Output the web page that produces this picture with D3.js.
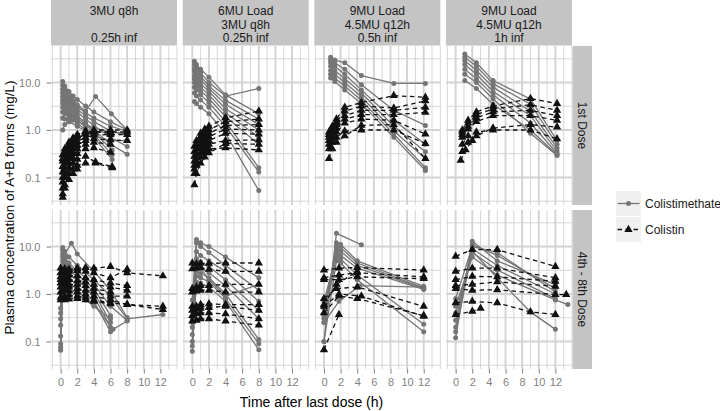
<!DOCTYPE html>
<html><head><meta charset="utf-8">
<script src="https://cdn.jsdelivr.net/npm/d3@7"></script>
<style>body{margin:0;background:#fff} svg{display:block;font-family:"Liberation Sans",Arial,Helvetica,sans-serif}</style>
</head><body><svg id="c" width="720" height="411"></svg>
<script>
// ---- labels ----
const regimens = [["3MU q8h", "", "0.25h inf"], ["6MU Load", "3MU q8h", "0.25h inf"], ["9MU Load", "4.5MU q12h", "0.5h inf"], ["9MU Load", "4.5MU q12h", "1h inf"]];
const doses = ["1st Dose", "4th - 8th Dose"];
const seriesNames = ["Colistimethate", "Colistin"];
const xTicks = [0, 2, 4, 6, 8, 10, 12];
const yTicks = [0.1, 1, 10];
const yTickLabels = ["0.1", "1.0", "10.0"];
const xTitle = "Time after last dose (h)";
const yTitle = "Plasma concentration of A+B forms (mg/L)";

// ---- data: each profile is a list of [time (h), concentration (mg/L)] ----
// 1st dose
const cms_1st_3MU = [
 [[0.25,10.5],[0.5,8.5],[1,6.5],[1.5,5.2],[2,4.4],[3,3.2],[4,2.4],[6,1.5],[8,1.0]],
 [[0.25,8.8],[0.5,7],[1,5.2],[1.5,4.2],[2,3.4],[3,2.5],[4.2,5.1],[6.1,2.2],[8,1.0]],
 [[0.25,7.2],[0.5,6],[1,4.6],[1.5,3.8],[2,3.1],[3,2.3],[4,1.8],[6,1.2],[8,0.95]],
 [[0.25,6],[0.5,5.1],[1,4],[1.5,3.3],[2,2.7],[3,2],[4,1.5],[6,0.95],[8,0.78]],
 [[0.25,5],[0.5,4.4],[1,3.5],[1.5,2.9],[2,2.4],[3,1.7],[4,1.25],[6,0.7],[8,0.45]],
 [[0.25,4.2],[0.5,3.7],[1,3],[1.5,2.5],[2,2],[3,1.4],[4,1.0],[6,0.5],[8,0.31]],
 [[0.25,3.6],[0.5,3.2],[1,2.6],[1.5,2.2],[2,1.8],[3,1.3],[4,0.9],[6.2,0.38]],
 [[0.25,3],[0.5,2.7],[1,2.2],[1.5,1.9],[2,1.6],[3,1.15],[4,0.8],[6.2,0.3]],
 [[0.25,2.4],[0.5,2.2],[1,1.9],[1.5,1.6],[2,1.4],[3,1.0],[4,0.7],[6.2,0.24]],
 [[0.25,1.8],[0.5,1.7],[1,1.5],[2,1.2],[3,0.95],[4,0.75],[6,0.6],[8,0.6]],
 [[0.25,1.0],[0.5,1.3],[1,1.6],[2,1.5],[3,1.3],[4,1.1],[6,0.9],[8,0.85]]
];
const col_1st_3MU = [
 [[0.25,0.3],[0.5,0.4],[1,0.55],[1.5,0.68],[2,0.8],[3,0.95],[4,1.0],[6,1.0],[8,1.0]],
 [[0.25,0.22],[0.5,0.3],[1,0.45],[1.5,0.58],[2,0.68],[3,0.82],[4,0.9],[6,0.92],[8,0.9]],
 [[0.25,0.17],[0.5,0.24],[1,0.37],[1.5,0.48],[2,0.58],[3,0.7],[4,0.78],[6,0.8],[8,0.8]],
 [[0.25,0.13],[0.5,0.2],[1,0.3],[1.5,0.4],[2,0.48],[3,0.6],[4,0.65],[6,0.62],[8,0.6]],
 [[0.25,0.1],[0.5,0.16],[1,0.25],[1.5,0.33],[2,0.4],[3,0.5],[4,0.55],[6,0.5]],
 [[0.25,0.08],[0.5,0.13],[1,0.2],[1.5,0.26],[2,0.32],[3,0.4],[4,0.42],[6,0.34]],
 [[0.25,0.06],[0.5,0.1],[1,0.16],[1.5,0.2],[2,0.24],[3,0.28],[4.2,0.21],[6.2,0.17]],
 [[0.25,0.045],[0.5,0.07],[1,0.12],[1.5,0.15],[2,0.18],[3,0.2],[4.2,0.2],[6.2,0.16]],
 [[0.25,0.038],[0.5,0.06],[1,0.09],[1.5,0.12],[2,0.15]],
 [[0.25,0.25],[0.5,0.35],[1,0.5],[2,0.75],[3,0.9],[4,0.95],[6,0.85]]
];
const cms_1st_6MU = [
 [[0.25,28],[0.5,24],[1,19],[2,13],[4,5.5],[8,2.2]],
 [[0.25,24],[0.5,20],[1,16],[2,10],[4,5.2],[8,7.5]],
 [[0.25,20],[0.5,17],[1,13.5],[2,8.5],[4,4.2],[8,1.7]],
 [[0.25,17],[0.5,14.5],[1,11.5],[2,7.5],[4,3.5],[8,1.3]],
 [[0.25,14],[0.5,12],[1,9.5],[2,6.5],[4,2.8],[8,1.0]],
 [[0.25,12],[0.5,10],[1,8],[2,5.5],[4,2.3],[8,0.7]],
 [[0.25,10],[0.5,8.5],[1,6.8],[2,4.6],[4,1.9],[8,0.5]],
 [[0.25,8],[0.5,7],[1,5.5],[2,3.8],[4,1.5],[8,0.16]],
 [[0.25,6],[0.5,5.2],[1,4.3],[2,3],[4,1.2],[8,0.13]],
 [[0.25,4],[0.5,3.6],[1,3],[2,2.2],[4,0.85],[8,0.053]]
];
const col_1st_6MU = [
 [[0.25,0.45],[0.5,0.6],[1,0.85],[1.5,1.05],[2,1.2],[4,1.8],[8,2.5]],
 [[0.25,0.35],[0.5,0.48],[1,0.7],[1.5,0.88],[2,1.0],[4,1.5],[8,1.7]],
 [[0.25,0.28],[0.5,0.4],[1,0.58],[1.5,0.72],[2,0.85],[4,1.25],[8,1.3]],
 [[0.25,0.22],[0.5,0.32],[1,0.48],[1.5,0.6],[2,0.72],[4,1.05],[8,1.0]],
 [[0.25,0.18],[0.5,0.26],[1,0.4],[1.5,0.5],[2,0.6],[4,0.85],[8,0.82]],
 [[0.25,0.15],[0.5,0.22],[1,0.33],[1.5,0.42],[2,0.5],[4,0.6],[8,0.62]],
 [[0.25,0.12],[0.5,0.18],[1,0.27],[1.5,0.34],[2,0.4],[4,0.42],[8,0.38]],
 [[0.25,0.07],[0.5,0.12],[1,0.2],[1.5,0.27],[2,0.33],[4,0.52],[8,0.5]]
];
const cms_1st_9MU05 = [
 [[0.8,34],[1.3,30],[2.5,26],[4.5,14],[8.4,9.6],[12.2,9.6]],
 [[0.8,30],[1.3,26],[2.5,19],[4.5,9],[8.4,2.6],[12.2,1.25]],
 [[0.8,26],[1.3,22],[2.5,15],[4.5,7],[8.4,1.6],[12.2,0.5]],
 [[0.8,22],[1.3,18],[2.5,12],[4.5,6],[8.4,1.2],[12.2,0.35]],
 [[0.8,18],[1.3,15],[2.5,10],[4.5,5],[8.4,0.95],[12.2,0.25]],
 [[0.8,15],[1.3,12.5],[2.5,8.5],[4.5,4.2],[8.4,0.82],[12.2,0.16]],
 [[0.8,12.5],[1.3,10.5],[2.5,7],[4.5,3.6],[8.4,0.7],[12.2,0.14]]
];
const col_1st_9MU05 = [
 [[0.6,0.9],[1,1.2],[1.5,1.7],[2.5,3.0],[4.5,3.8],[8.4,5.3],[12.2,4.9]],
 [[0.6,0.8],[1,1.1],[1.5,1.5],[2.5,2.5],[4.5,3.2],[8.4,2.9],[12.2,4.1]],
 [[0.6,0.7],[1,1.0],[1.5,1.3],[2.5,2.0],[4.5,2.6],[8.4,2.6],[12.2,3.0]],
 [[0.6,0.6],[1,0.85],[1.5,1.1],[2.5,1.7],[4.5,2.1],[8.4,2.1],[12.2,2.35]],
 [[0.6,0.5],[1,0.7],[1.5,0.9],[2.5,1.4],[4.5,1.7],[8.4,1.6],[12.2,0.82]],
 [[0.6,0.4],[1,0.55],[1.5,0.7],[2.5,0.95],[4.5,1.0],[8.4,1.0],[12.2,0.52]],
 [[0.6,0.25],[1,0.4],[1.5,0.55],[2.5,0.75],[4.5,1.25],[8.4,1.3],[12.2,0.25]]
];
const cms_1st_9MU1 = [
 [[1.1,40],[2.5,26],[4.5,11],[9,4.5],[12.2,0.6]],
 [[1.1,34],[2.5,22],[4.5,9.5],[9,3.5],[12.2,0.5]],
 [[1.1,29],[2.5,18],[4.5,8],[9,2.5],[12.2,0.42]],
 [[1.1,24],[2.5,15],[4.5,6.5],[9,2.0],[12.2,0.36]],
 [[1.1,19],[2.5,12],[4.5,5.5],[9,1.4],[12.2,0.32]],
 [[1.1,15],[2.5,10],[4.5,4.5],[9,0.85],[12.2,0.29]],
 [[1.1,11],[2.5,7.5],[4.5,3.5],[9,1.0],[12.2,0.3]]
];
const col_1st_9MU1 = [
 [[0.8,1.0],[1.5,1.6],[2.5,2.4],[4.5,3.2],[9,4.6],[12.2,3.6]],
 [[0.8,0.9],[1.5,1.4],[2.5,2.1],[4.5,2.8],[9,3.4],[12.2,2.6]],
 [[0.8,0.8],[1.5,1.2],[2.5,1.8],[4.5,2.4],[9,2.6],[12.2,2.0]],
 [[0.8,0.7],[1.5,1.05],[2.5,1.5],[4.5,2.0],[9,2.0],[12.2,1.6]],
 [[0.8,0.5],[1.5,0.75],[2.5,0.9],[4.5,1.0],[9,1.0],[12.2,0.65]],
 [[0.8,0.35],[1.5,0.55],[2.5,0.75],[4.5,1.1],[9,1.3],[12.2,1.15]],
 [[0.6,0.23],[1.2,0.38],[2,0.6]]
];
// 4th - 8th dose
const cms_ss_3MU = [
 [[0,0.8],[0.25,9.5],[0.5,8],[1,6],[2,4],[4,2],[6,0.9],[8,0.3],[12.3,0.37]],
 [[0,0.5],[0.25,8.5],[0.5,7],[1.3,11.8],[2,7],[4,3],[6,1.2],[8,0.32]],
 [[0,0.4],[0.25,7],[0.5,6],[1,4.5],[2,3],[4,1.6],[6,0.55],[8,0.28]],
 [[0,0.3],[0.25,6],[0.5,5],[1,4],[2,2.6],[4,1.3],[6,0.35]],
 [[0,0.22],[0.25,5],[0.5,4.2],[1,3.4],[2,2.2],[4,1.1],[6,0.25]],
 [[0,0.13],[0.25,4],[0.5,3.5],[1,2.8],[2,1.9],[3,1.4],[4,0.9],[6,0.2]],
 [[0,0.09],[0.25,3.2],[0.5,2.8],[1,2.3],[2,1.5],[3,1.0],[4,0.7],[6,0.16]],
 [[0,0.075],[0.25,2.5],[0.5,2.2],[1,1.8],[2,1.2],[3,0.8],[4,0.6],[6.3,0.18],[8,0.27]],
 [[0,0.065],[0.25,1.6],[0.5,1.5],[1,1.3],[2,1.0],[3,0.75],[4,0.55],[6,0.3]]
];
const col_ss_3MU = [
 [[0,3.5],[0.5,3.4],[1,3.3],[2,3.5],[3,3.6],[4,3.5],[6,3.8],[8,2.8],[12.3,2.4]],
 [[0,2.8],[0.5,2.9],[1,3.0],[2,3.1],[3,3.0],[4,2.8],[6,2.2],[8,3.3]],
 [[0,2.3],[0.5,2.4],[1,2.5],[2,2.4],[3,2.2],[4,2.0],[6,1.7],[8,1.5]],
 [[0,2.0],[0.5,2.1],[1,2.0],[2,1.9],[3,1.8],[4,1.6],[6,1.4],[8,1.2]],
 [[0,1.7],[0.5,1.7],[1,1.6],[2,1.6],[3,1.5],[4,1.3],[6,1.1]],
 [[0,1.4],[0.5,1.5],[1,1.4],[2,1.3],[3,1.2],[4,1.1],[6,0.9],[8,0.9]],
 [[0,1.1],[0.5,1.2],[1,1.15],[2,1.1],[3,1.0],[4,0.9],[6,0.75],[8,0.6],[12.3,0.55]],
 [[0,0.85],[0.5,0.9],[1,0.95],[2,0.9],[3,0.85],[4,0.75],[6,0.65],[8,0.6],[12.3,0.47]],
 [[0,0.75],[0.5,0.75],[1,0.78],[2,0.8],[3,0.75],[4,0.7],[6,0.62]]
];
const cms_ss_6MU = [
 [[0,0.75],[0.5,14],[1,12],[2,10],[4,6],[8,2.2]],
 [[0,0.45],[0.5,12],[1,10],[2,7.5],[4,4],[8,1.2]],
 [[0,0.3],[0.5,7.9],[1,6.5],[2,5],[4,3],[8,0.7]],
 [[0,0.25],[0.5,4.5],[1,3.5],[2,2.0],[4,0.9],[8,1.6]],
 [[0,0.2],[0.5,5.5],[1,4.8],[2,3.8],[4,2],[8,0.45]],
 [[0,0.14],[0.5,4],[1,3.5],[2,2.8],[4,1.5],[8,0.3]],
 [[0,0.1],[0.5,3],[1,2.7],[2,2.2],[4,1.0],[8,0.11]],
 [[0,0.08],[0.5,2.4],[1,2.2],[2,1.8],[4,0.8],[8,0.09]],
 [[0,0.062],[0.5,1.8],[1,1.7],[2,1.4],[4,0.7],[8,0.067]]
];
const col_ss_6MU = [
 [[0,4.5],[0.5,4.3],[1,4.4],[2,4.4],[4,4.5],[8,4.5]],
 [[0,3.4],[0.5,3.5],[1,3.6],[2,3.3],[4,3.0],[8,3.0]],
 [[0,1.3],[0.5,1.4],[1,1.5],[2,1.5],[4,1.6],[8,1.6]],
 [[0,1.1],[0.5,1.15],[1,1.2],[2,1.2],[4,1.1],[8,1.1]],
 [[0,0.55],[0.5,0.55],[1,0.6],[2,0.62],[4,0.6],[8,0.6]],
 [[0,0.45],[0.5,0.48],[1,0.5],[2,0.52],[4,0.55],[8,0.45]],
 [[0,0.35],[0.5,0.38],[1,0.4],[2,0.4],[4,0.38],[8,0.3]],
 [[0,0.27],[0.5,0.28],[1,0.3],[2,0.3],[4,0.27],[8,0.22]]
];
const cms_ss_9MU05 = [
 [[0,0.1],[1.5,19],[4.5,10.9]],
 [[0,0.25],[1.5,12],[2,11],[4,5],[12,1.45]],
 [[0,0.35],[1.5,10],[2,9.5],[4,4.5],[12,1.35]],
 [[0,0.5],[1.5,8.5],[2,8],[4,4],[12,1.3]],
 [[0,0.7],[1.5,7],[2,6.5],[4,3.5],[12,1.25]],
 [[0,0.3],[1.5,6],[2,5.5],[4,2.5],[12,0.23]],
 [[0,0.1],[1.5,5],[2,4.5],[4,2.0],[12,0.16]],
 [[0,0.25],[1.8,0.7],[4.3,1.5],[12,1.4]]
];
const col_ss_9MU05 = [
 [[0,3.2],[1.8,3.5],[4,3.6],[12,3.2]],
 [[0,2.2],[1.8,2.5],[4,2.8],[12,2.3]],
 [[0,2.0],[1.8,2.0],[4,2.3],[12,2.1]],
 [[0,0.8],[1.5,1.3],[4,1.4],[12,0.55]],
 [[0,0.55],[1.8,1.0],[4.5,0.9],[12,0.34]],
 [[0,0.4],[1.8,0.9],[4,0.8],[12,0.35]],
 [[0,0.067],[1.8,0.37]],
 [[0,0.6],[1.5,1.6],[4,3.0]]
];
const cms_ss_9MU1 = [
 [[0,0.12],[2,12.9],[5,5],[12,1.57]],
 [[0,0.2],[2,11],[5,6.5],[12,1.3]],
 [[0,0.28],[2,9],[5,4],[12,1.0]],
 [[0,0.4],[2,7.5],[5,3.2],[12,0.8]],
 [[0,0.55],[2,6],[5,2.5],[12,0.75],[13.5,0.6]],
 [[0,0.8],[2,10],[5,7.5],[12,1.1]],
 [[0,0.16],[2,8],[5,2.2],[9,0.42],[12,0.18]]
];
const col_ss_9MU1 = [
 [[0,6.2],[2,8.6],[5,8.6],[12,3.8]],
 [[0,3.0],[2,3.5],[5,3.5],[12,2.2]],
 [[0,2.0],[2,2.35],[5,2.3],[12,1.85]],
 [[0,1.5],[2,1.6],[5,1.8],[12,1.45]],
 [[0,1.3],[2,1.2],[5,1.23],[12,0.97],[13.3,0.97]],
 [[0,0.65],[2,0.7],[5,0.65],[9,0.42],[12,0.37]],
 [[0,0.37],[2,0.43],[3,0.5]]
];

const panelData = [
 [[cms_1st_3MU, col_1st_3MU], [cms_1st_6MU, col_1st_6MU], [cms_1st_9MU05, col_1st_9MU05], [cms_1st_9MU1, col_1st_9MU1]],
 [[cms_ss_3MU, col_ss_3MU], [cms_ss_6MU, col_ss_6MU], [cms_ss_9MU05, col_ss_9MU05], [cms_ss_9MU1, col_ss_9MU1]]
];

// ---- layout ----
const svg = d3.select("#c");
const left = 51, colStep = 131.67, panelW = 126, panelH = 159;
const rowTop = [46, 210];
const stripFill = "#c4c4c4", gridCol = "#d3d3d3", tickCol = "#7f7f7f";
const cmsCol = "#757575", colCol = "#111111";

const x = d3.scaleLinear().domain([-1.16, 14.0]).range([0, panelW]);
const y = d3.scaleLog().domain([Math.pow(10, -1.58), Math.pow(10, 1.77)]).range([panelH, 0]);
const xMinor = [-1, 1, 3, 5, 7, 9, 11, 13, 14].filter(v => v >= x.domain()[0] && v <= x.domain()[1]);
const yMinor = [-1.5, -0.5, 0.5, 1.5].map(e => Math.pow(10, e));

const line = d3.line().x(d => x(d[0])).y(d => y(d[1]));
const tri = d3.symbol().type(d3.symbolTriangle).size(30);

// top strips
regimens.forEach((lab, c) => {
  const gx = left + c * colStep;
  svg.append("rect").attr("x", gx).attr("y", 0).attr("width", panelW).attr("height", 45.5).attr("fill", stripFill);
  lab.forEach((t, i) => {
    svg.append("text").attr("x", gx + panelW / 2).attr("y", 11 + i * 13.3 + 4.3)
      .attr("text-anchor", "middle").attr("font-size", 12).attr("fill", "#1a1a1a").text(t);
  });
});

// right strips
doses.forEach((lab, r) => {
  svg.append("rect").attr("x", 572.5).attr("y", rowTop[r]).attr("width", 19.5).attr("height", panelH).attr("fill", stripFill);
  svg.append("text").attr("transform", `translate(${582.2 - 4.3},${rowTop[r] + panelH / 2}) rotate(90)`)
    .attr("text-anchor", "middle").attr("font-size", 12).attr("fill", "#1a1a1a").text(lab);
});

panelData.forEach((row, r) => {
  row.forEach((pd, c) => {
    const g = svg.append("g").attr("transform", `translate(${left + c * colStep},${rowTop[r]})`);
    g.selectAll(".vmin").data(xMinor).join("line").attr("x1", d => x(d)).attr("x2", d => x(d))
      .attr("y1", 0).attr("y2", panelH).attr("stroke", gridCol).attr("stroke-width", 0.9);
    g.selectAll(".hmin").data(yMinor).join("line").attr("y1", d => y(d)).attr("y2", d => y(d))
      .attr("x1", 0).attr("x2", panelW).attr("stroke", gridCol).attr("stroke-width", 0.9);
    g.selectAll(".vmaj").data(xTicks).join("line").attr("x1", d => x(d)).attr("x2", d => x(d))
      .attr("y1", 0).attr("y2", panelH).attr("stroke", gridCol).attr("stroke-width", 1.9);
    g.selectAll(".hmaj").data(yTicks).join("line").attr("y1", d => y(d)).attr("y2", d => y(d))
      .attr("x1", 0).attr("x2", panelW).attr("stroke", gridCol).attr("stroke-width", 1.9);

    const [cms, col] = pd;
    g.selectAll(".lc").data(cms).join("path").attr("d", line).attr("fill", "none")
      .attr("stroke", cmsCol).attr("stroke-width", 1.3);
    g.selectAll(".ll").data(col).join("path").attr("d", line).attr("fill", "none")
      .attr("stroke", colCol).attr("stroke-width", 1.3).attr("stroke-dasharray", "4.5,3.5");
    g.selectAll(".pc").data(cms.flat()).join("circle").attr("cx", d => x(d[0])).attr("cy", d => y(d[1]))
      .attr("r", 2.5).attr("fill", cmsCol);
    g.selectAll(".pl").data(col.flat()).join("path").attr("d", tri)
      .attr("transform", d => `translate(${x(d[0])},${y(d[1])})`).attr("fill", colCol);

    if (c === 0) {
      const ya = svg.append("g").attr("transform", `translate(${left},${rowTop[r]})`);
      ya.call(d3.axisLeft(y).tickValues(yTicks).tickFormat((d, i) => yTickLabels[i]).tickSize(4.5).tickPadding(6));
      ya.select(".domain").remove();
      ya.selectAll("line").attr("stroke", tickCol);
      ya.selectAll("text").attr("fill", tickCol).attr("font-size", 11).attr("font-family", "Liberation Sans, Arial, sans-serif");
    }
    if (r === 1) {
      const xa = svg.append("g").attr("transform", `translate(${left + c * colStep},${rowTop[r] + panelH})`);
      xa.call(d3.axisBottom(x).tickValues(xTicks).tickFormat(d3.format("d")).tickSize(4.5).tickPadding(5));
      xa.select(".domain").remove();
      xa.selectAll("line").attr("stroke", tickCol);
      xa.selectAll("text").attr("fill", tickCol).attr("font-size", 11).attr("font-family", "Liberation Sans, Arial, sans-serif");
    }
  });
});

// axis titles
svg.append("text").attr("x", left + (3 * colStep + panelW) / 2).attr("y", 407)
  .attr("text-anchor", "middle").attr("font-size", 14).attr("fill", "#000").text(xTitle);
svg.append("text").attr("transform", `translate(14,${(rowTop[0] + rowTop[1] + panelH) / 2}) rotate(-90)`)
  .attr("text-anchor", "middle").attr("font-size", 13.5).attr("fill", "#000").text(yTitle);

// legend
const lg = svg.append("g").attr("transform", "translate(616,191)");
seriesNames.forEach((nm, i) => {
  const k = lg.append("g").attr("transform", `translate(0,${i * 26})`);
  k.append("rect").attr("width", 25).attr("height", 25).attr("fill", "#f0f0f0");
  k.append("line").attr("x1", 1.5).attr("x2", 23.5).attr("y1", 12.5).attr("y2", 12.5)
    .attr("stroke", i === 0 ? cmsCol : colCol).attr("stroke-width", 1.3)
    .attr("stroke-dasharray", i === 0 ? null : "4.5,3.5");
  if (i === 0) k.append("circle").attr("cx", 12.5).attr("cy", 12.5).attr("r", 2.5).attr("fill", cmsCol);
  else k.append("path").attr("d", tri).attr("transform", "translate(12.5,12.5)").attr("fill", colCol);
  k.append("text").attr("x", 29).attr("y", 12.5 + 4.3).attr("font-size", 12).attr("fill", "#1a1a1a").text(nm);
});
</script>
</body></html>
